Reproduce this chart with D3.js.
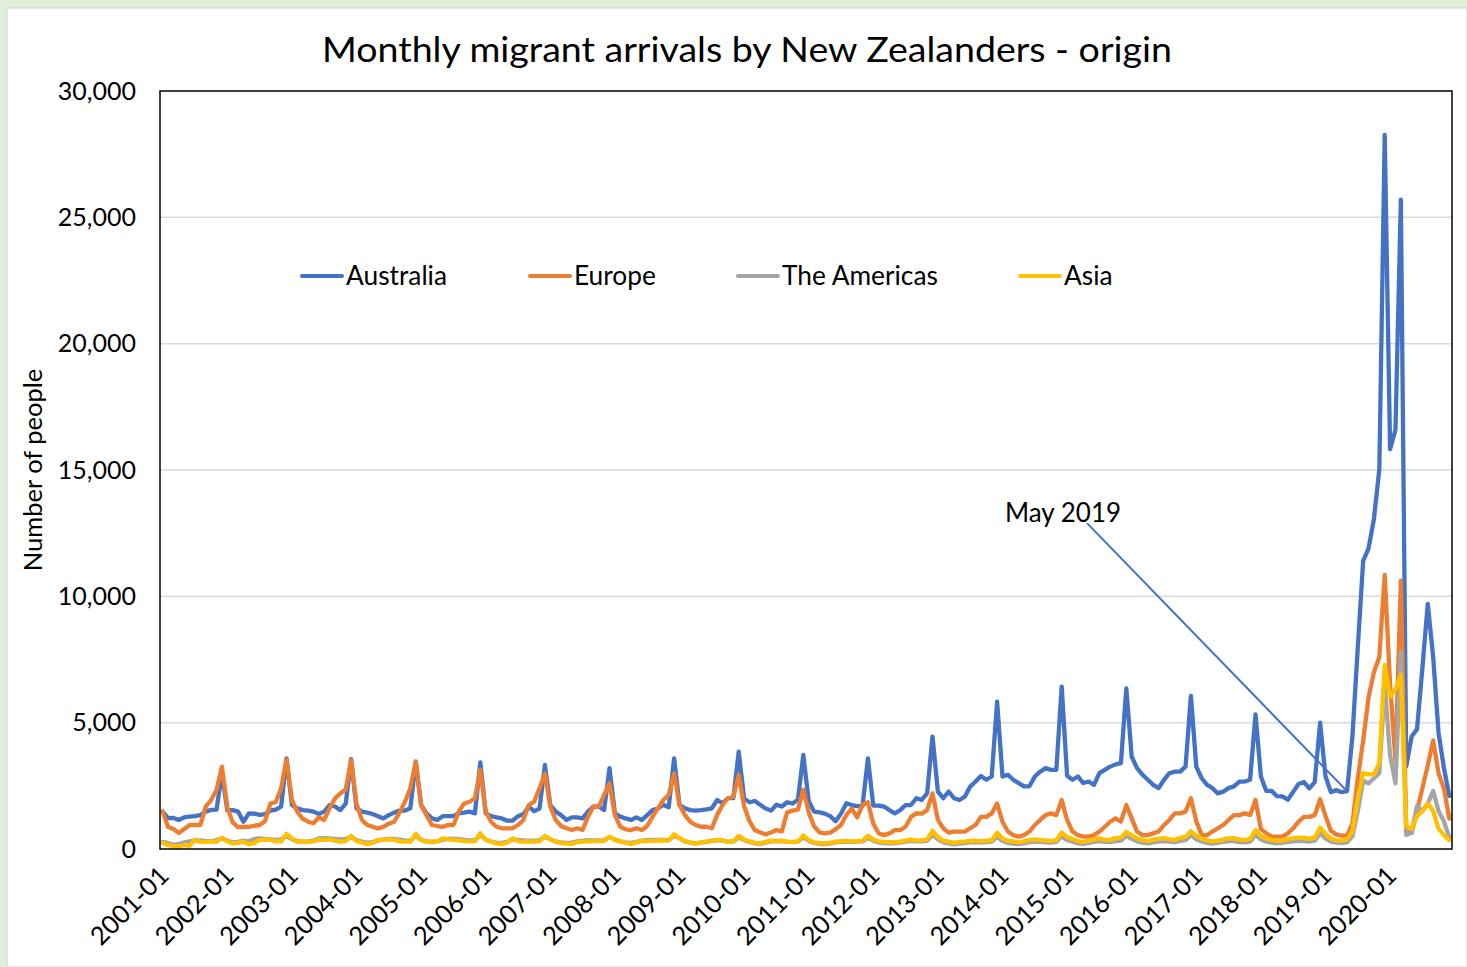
<!DOCTYPE html>
<html>
<head>
<meta charset="utf-8">
<script src="https://cdn.jsdelivr.net/npm/d3@7"></script>
<style>
  html, body { margin: 0; padding: 0; background: #e2efda; }
  svg { display: block; }
  text { font-family: Lato, "Open Sans", "Noto Sans", sans-serif; fill: #000; }
</style>
</head>
<body>
<svg id="chart" width="1467" height="967"></svg>
<script>
// Monthly migrant arrivals of New Zealand citizens, Jan 2001 – Dec 2020, by origin region.
const years = d3.range(2001, 2021);
const months = years.flatMap(y => d3.range(1, 13).map(m => `${y}-${String(m).padStart(2, "0")}`));

const tickLabels = ["2001-01","2002-01","2003-01","2004-01","2005-01","2006-01","2007-01",
  "2008-01","2009-01","2010-01","2011-01","2012-01","2013-01","2014-01","2015-01",
  "2016-01","2017-01","2018-01","2019-01","2020-01"];

const yTicks = [0, 5000, 10000, 15000, 20000, 25000, 30000];

// one row per year, Jan..Dec
const australia = [
  1480, 1220, 1230, 1150, 1250, 1280, 1300, 1340, 1480, 1550, 1560, 3000,
  1540, 1540, 1480, 1080, 1410, 1400, 1350, 1380, 1520, 1560, 1680, 3590,
  1740, 1610, 1540, 1520, 1480, 1385, 1480, 1740, 1680, 1540, 1800, 3560,
  1610, 1480, 1440, 1385, 1300, 1210, 1340, 1440, 1520, 1520, 1610, 3460,
  1740, 1410, 1210, 1150, 1300, 1300, 1300, 1410, 1440, 1480, 1410, 3430,
  1410, 1300, 1250, 1210, 1120, 1120, 1300, 1380, 1680, 1500, 1600, 3325,
  1740, 1480, 1340, 1150, 1250, 1250, 1210, 1480, 1680, 1680, 1540, 3200,
  1410, 1280, 1210, 1150, 1250, 1150, 1340, 1540, 1600, 1750, 1650, 3590,
  1740, 1610, 1540, 1520, 1540, 1570, 1610, 1940, 1810, 2010, 2010, 3850,
  2000, 1850, 1900, 1750, 1600, 1520, 1750, 1680, 1850, 1800, 1950, 3720,
  1900, 1480, 1450, 1400, 1300, 1100, 1400, 1810, 1740, 1700, 1700, 3590,
  1720, 1720, 1680, 1540, 1410, 1540, 1740, 1740, 2010, 1940, 2200, 4450,
  2270, 2010, 2270, 2010, 1940, 2070, 2470, 2670, 2890, 2740, 2870, 5830,
  2870, 2940, 2740, 2610, 2480, 2480, 2870, 3060, 3200, 3130, 3130, 6425,
  2900, 2740, 2870, 2610, 2670, 2540, 3000, 3130, 3260, 3350, 3400, 6360,
  3650, 3200, 2940, 2740, 2540, 2410, 2740, 3000, 3060, 3060, 3260, 6055,
  3260, 2800, 2540, 2410, 2200, 2270, 2410, 2480, 2670, 2670, 2740, 5330,
  2870, 2300, 2300, 2090, 2080, 1950, 2260, 2570, 2650, 2400, 2650, 5000,
  2880, 2250, 2330, 2250, 2290, 4450, 7980, 11400, 11900, 13070, 15030, 28260,
  15820, 16600, 25700, 3270, 4450, 4740, 7150, 9700, 7600, 4600, 3200, 2100
];

const europe = [
  1480, 870, 790, 630, 790, 950, 950, 950, 1675, 1940, 2335, 3260,
  1650, 1050, 870, 870, 880, 920, 950, 1100, 1800, 1850, 2400, 3550,
  1940, 1480, 1200, 1080, 1020, 1250, 1150, 1610, 2000, 2200, 2360, 3520,
  1800, 1150, 950, 880, 810, 880, 1000, 1080, 1450, 1870, 2400, 3456,
  1740, 1340, 950, 910, 880, 950, 950, 1480, 1800, 1870, 2000, 3130,
  1480, 1080, 880, 820, 820, 820, 950, 1150, 1740, 1870, 2400, 2990,
  1680, 1150, 910, 820, 750, 820, 750, 1280, 1680, 1680, 2140, 2600,
  1340, 880, 780, 750, 820, 750, 910, 1280, 1610, 1940, 2140, 2990,
  1740, 1350, 1080, 950, 880, 880, 820, 1350, 1740, 2010, 2070, 2930,
  1700, 1100, 750, 650, 580, 650, 750, 700, 1450, 1520, 1560, 2350,
  1450, 900, 660, 620, 650, 780, 950, 1350, 1600, 1250, 1750, 1850,
  1000, 620, 550, 620, 750, 750, 880, 1270, 1410, 1400, 1540, 2200,
  1150, 820, 650, 690, 690, 690, 820, 950, 1270, 1270, 1410, 1800,
  1080, 690, 550, 490, 550, 690, 950, 1150, 1340, 1410, 1340, 1940,
  1150, 690, 550, 490, 490, 550, 690, 880, 1080, 1210, 1080, 1740,
  1210, 690, 550, 550, 620, 690, 950, 1150, 1410, 1410, 1480, 2010,
  1100, 550, 550, 690, 820, 950, 1150, 1340, 1340, 1410, 1340, 1940,
  800, 620, 490, 490, 490, 620, 820, 1080, 1270, 1270, 1340, 1970,
  1310, 725, 570, 530, 530, 1000, 2800, 4300, 6000, 7000, 7600, 10850,
  6500, 3500, 10620, 725, 630, 1500, 2400, 3300, 4300, 3000, 2400, 1200
];

const americas = [
  280, 230, 170, 200, 260, 300, 330, 340, 320, 300, 350, 420,
  340, 260, 280, 330, 310, 400, 420, 400, 380, 360, 380, 500,
  390, 320, 290, 300, 330, 420, 430, 420, 400, 380, 400, 480,
  350, 290, 250, 270, 330, 380, 400, 400, 370, 340, 330, 520,
  370, 300, 280, 300, 360, 400, 410, 390, 360, 340, 350, 540,
  380, 290, 250, 240, 290, 380, 360, 340, 330, 330, 350, 480,
  390, 300, 260, 240, 250, 300, 330, 350, 340, 340, 350, 470,
  380, 300, 260, 240, 280, 330, 350, 360, 360, 360, 350, 520,
  420, 300, 250, 220, 250, 280, 320, 350, 330, 290, 300, 450,
  360, 280, 220, 200, 250, 300, 300, 310, 280, 270, 290, 460,
  330, 240, 200, 190, 220, 260, 280, 290, 280, 290, 300, 440,
  330, 260, 230, 220, 220, 250, 290, 320, 300, 300, 320, 560,
  380, 260, 220, 180, 210, 230, 260, 270, 250, 270, 290, 480,
  320, 240, 210, 190, 220, 270, 290, 280, 260, 250, 280, 500,
  350, 290, 220, 200, 240, 280, 310, 280, 270, 310, 330, 520,
  400, 300, 250, 220, 260, 290, 310, 290, 270, 320, 350, 540,
  380, 300, 240, 210, 240, 280, 310, 310, 270, 260, 290, 560,
  380, 290, 250, 220, 240, 280, 300, 320, 310, 290, 330, 620,
  420, 290, 250, 230, 270, 500, 1500, 2700, 2600, 2800, 3000, 6500,
  3700, 2600, 7800, 550, 650, 1700, 1500, 1800, 2300, 1500, 1100, 450
];

const asia = [
  250, 160, 110, 100, 160, 120, 370, 280, 280, 290, 290, 450,
  300, 220, 240, 290, 190, 230, 360, 370, 360, 300, 300, 600,
  420, 290, 300, 290, 300, 360, 360, 380, 330, 290, 310, 520,
  310, 260, 190, 240, 360, 360, 380, 360, 300, 290, 280, 600,
  350, 290, 290, 300, 420, 380, 360, 340, 310, 300, 310, 620,
  360, 290, 220, 190, 260, 420, 300, 290, 290, 290, 310, 520,
  380, 290, 240, 210, 200, 270, 290, 300, 300, 310, 320, 490,
  360, 300, 250, 200, 260, 310, 310, 320, 330, 340, 330, 580,
  430, 300, 260, 210, 260, 290, 330, 360, 350, 280, 300, 520,
  380, 300, 240, 230, 280, 330, 320, 330, 290, 280, 300, 540,
  360, 260, 230, 230, 250, 290, 310, 320, 300, 310, 330, 520,
  380, 300, 280, 270, 260, 290, 330, 370, 340, 350, 380, 720,
  480, 330, 290, 240, 280, 290, 320, 330, 300, 330, 350, 640,
  420, 330, 300, 270, 300, 360, 380, 360, 340, 310, 350, 650,
  470, 400, 310, 280, 330, 380, 420, 370, 360, 430, 450, 680,
  540, 420, 350, 310, 370, 400, 430, 390, 360, 440, 480, 700,
  520, 420, 340, 300, 330, 380, 420, 430, 370, 350, 400, 750,
  520, 410, 360, 320, 340, 390, 420, 450, 440, 400, 450, 850,
  600, 400, 350, 330, 380, 700, 2000, 3000, 2950, 2950, 3400, 7290,
  6020, 6310, 6900, 900, 800, 1300, 1500, 1800, 1500, 800, 550, 350
];

const seriesNames = ["Australia", "Europe", "The Americas", "Asia"];
const seriesColors = ["#4472c4", "#ed7d31", "#a5a5a5", "#ffc000"];
const seriesValues = [australia, europe, americas, asia];

const annotation = { month: "2019-05", series: 0, label: "May 2019" };

// ---- layout ----
const W = 1467, H = 967;
const plot = { left: 160, right: 1452, top: 91, bottom: 849 };

const svg = d3.select("#chart");

// white chart area on the light-green sheet
svg.append("rect")
  .attr("x", 7).attr("y", 8).attr("width", W - 7).attr("height", H - 8)
  .attr("fill", "#fff").attr("stroke", "#d0d7cc").attr("stroke-width", 1);

const x = d3.scalePoint().domain(months).range([plot.left, plot.right]).padding(0.5);
const y = d3.scaleLinear().domain([0, 30000]).range([plot.bottom, plot.top]);

// title
svg.append("text")
  .attr("x", 747).attr("y", 62)
  .attr("text-anchor", "middle")
  .attr("font-size", 34)
  .attr("textLength", 850).attr("lengthAdjust", "spacingAndGlyphs")
  .text("Monthly migrant arrivals by New Zealanders - origin");

// horizontal gridlines
svg.append("g")
  .selectAll("line")
  .data(yTicks.filter(t => t > 0 && t < 30000))
  .join("line")
  .attr("x1", plot.left).attr("x2", plot.right)
  .attr("y1", d => y(d)).attr("y2", d => y(d))
  .attr("stroke", "#d9d9d9").attr("stroke-width", 1.5);

// y axis labels
const yAxis = d3.axisLeft(y).tickValues(yTicks).tickFormat(d3.format(",")).tickSize(0).tickPadding(24);
svg.append("g")
  .attr("transform", `translate(${plot.left},0)`)
  .call(yAxis)
  .call(g => g.select(".domain").remove())
  .call(g => g.selectAll("text")
    .attr("font-family", "Lato, 'Open Sans', sans-serif")
    .attr("font-size", 25).attr("fill", "#000"));

// y axis title
svg.append("text")
  .attr("transform", "translate(42,470) rotate(-90)")
  .attr("text-anchor", "middle")
  .attr("font-size", 25.5)
  .text("Number of people");

// x axis labels, one per January
const xAxis = d3.axisBottom(x).tickValues(tickLabels).tickSize(0).tickPadding(0);
svg.append("g")
  .attr("transform", `translate(0,${plot.bottom})`)
  .call(xAxis)
  .call(g => g.select(".domain").remove())
  .call(g => g.selectAll("text")
    .attr("font-family", "Lato, 'Open Sans', sans-serif")
    .attr("font-size", 25.5).attr("fill", "#000")
    .attr("text-anchor", "end")
    .attr("dy", "0.35em")
    .attr("transform", "translate(1,22) rotate(-45)"));

// series lines
const line = d3.line()
  .x((d, i) => x(months[i]))
  .y(d => y(d));

svg.append("g")
  .selectAll("path")
  .data(seriesValues)
  .join("path")
  .attr("d", d => line(d))
  .attr("fill", "none")
  .attr("stroke", (d, i) => seriesColors[i])
  .attr("stroke-width", 4.3)
  .attr("stroke-linejoin", "round")
  .attr("stroke-linecap", "round");

// plot border
svg.append("rect")
  .attr("x", plot.left).attr("y", plot.top)
  .attr("width", plot.right - plot.left).attr("height", plot.bottom - plot.top)
  .attr("fill", "none").attr("stroke", "#000").attr("stroke-width", 1.5);

// legend
const legendX = [302, 530, 738, 1020];
const legend = svg.append("g").attr("transform", "translate(0,276)");
const items = legend.selectAll("g").data(seriesNames).join("g")
  .attr("transform", (d, i) => `translate(${legendX[i]},0)`);
items.append("line")
  .attr("x1", 0).attr("x2", 40).attr("y1", 0).attr("y2", 0)
  .attr("stroke", (d, i) => seriesColors[i]).attr("stroke-width", 4)
  .attr("stroke-linecap", "round");
items.append("text")
  .attr("x", 44).attr("dy", "0.35em")
  .attr("font-size", 26.3)
  .text(d => d);

// callout for May 2019
const ax = x(annotation.month);
const ay = y(seriesValues[annotation.series][months.indexOf(annotation.month)]);
const lx = ax - 260, ly = ay - 268;
svg.append("line")
  .attr("x1", lx).attr("y1", ly).attr("x2", ax).attr("y2", ay)
  .attr("stroke", "#4472c4").attr("stroke-width", 2);
svg.append("text")
  .attr("x", lx - 24).attr("y", ly - 1)
  .attr("text-anchor", "middle")
  .attr("font-size", 26)
  .text(annotation.label);
</script>
</body>
</html>
